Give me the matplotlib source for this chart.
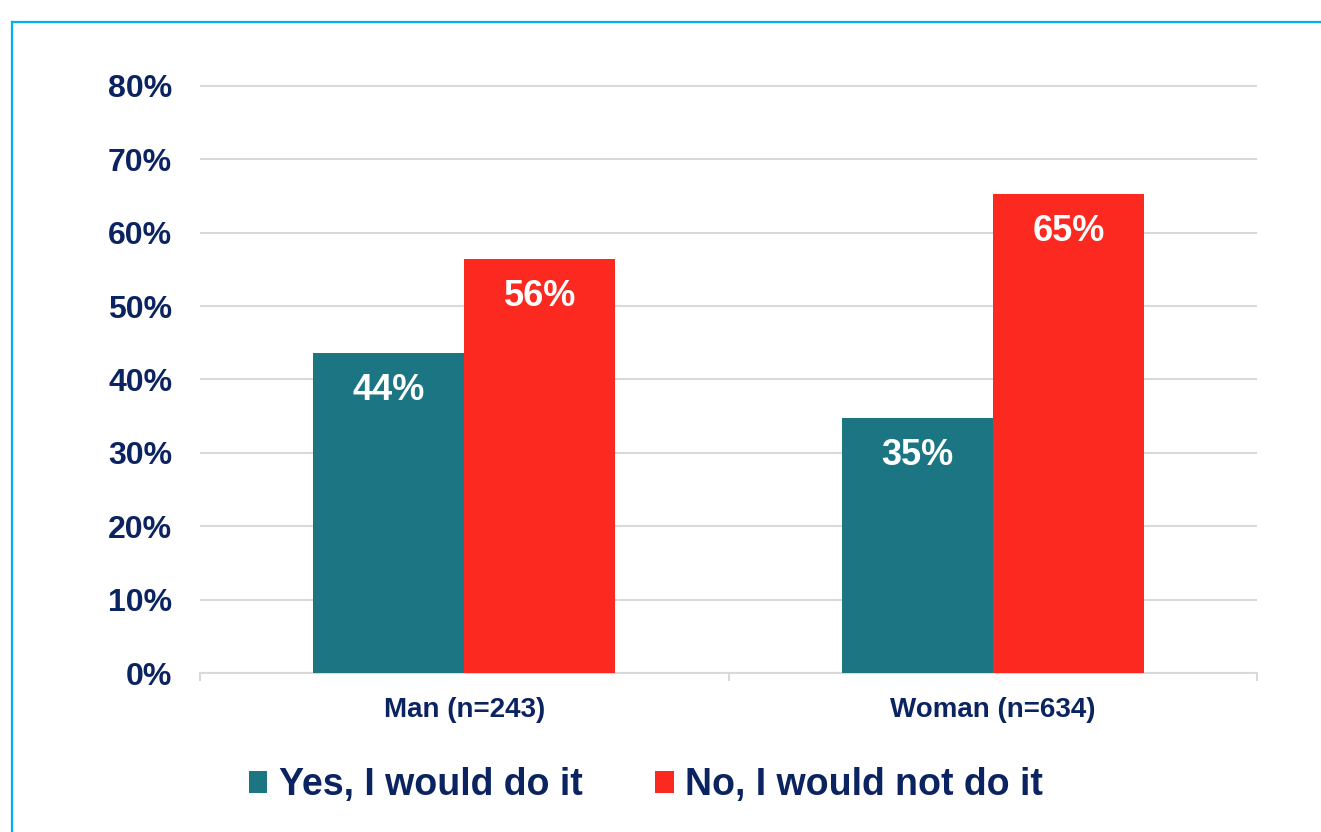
import numpy as np
import matplotlib.pyplot as plt
from matplotlib.lines import Line2D

plt.rcParams['font.family'] = ['Liberation Sans', 'DejaVu Sans']
plt.rcParams['font.weight'] = 'bold'

# survey answers by gender, in percent
groups = ['Man (n=243)', 'Woman (n=634)']
yes_vals = [43.6, 34.7]
no_vals = [56.4, 65.3]
series_names = ['Yes, I would do it', 'No, I would not do it']
yticks = [0, 10, 20, 30, 40, 50, 60, 70, 80]

navy = '#0B2461'
teal = '#1B7583'
red = '#FC2920'
grid_grey = '#D9D9D9'

fig = plt.figure(figsize=(13.21, 8.32), dpi=100)
ax = fig.add_axes([0.1514, 0.1911, 0.8002, 0.7232])

x = np.arange(len(groups))
width = 0.286
bars_yes = ax.bar(x - width / 2, yes_vals, width, color=teal, label=series_names[0], zorder=3)
bars_no = ax.bar(x + width / 2, no_vals, width, color=red, label=series_names[1], zorder=3)

# value labels just inside the top of each bar
def add_labels(bars):
    for bar in bars:
        h = bar.get_height()
        ax.annotate(f'{h:.0f}%',
                    xy=(bar.get_x() + bar.get_width() / 2, h),
                    xytext=(0, -27), textcoords='offset points',
                    ha='center', va='center', color='white',
                    fontsize=26, fontweight='bold', zorder=4)

add_labels(bars_yes)
add_labels(bars_no)

ax.set_xlim(-0.5, 1.5)
ax.set_ylim(0, 82)
ax.set_yticks(yticks)
ax.set_yticklabels([f'{v}%' for v in yticks])
ax.tick_params(axis='y', length=0, pad=20, labelsize=23, labelcolor=navy)

ax.set_xticks(x)
ax.set_xticklabels(groups)
ax.set_xticks([-0.5, 0.5, 1.5], minor=True)
ax.tick_params(axis='x', which='major', length=0, pad=17, labelsize=20, labelcolor=navy)
ax.tick_params(axis='x', which='minor', length=6, width=1.5, color=grid_grey, direction='out')

ax.yaxis.grid(True, color=grid_grey, linewidth=1.5, zorder=0)
ax.set_axisbelow(True)
for side in ['left', 'right', 'top']:
    ax.spines[side].set_visible(False)
ax.spines['bottom'].set_color(grid_grey)
ax.spines['bottom'].set_linewidth(1.5)

fig.legend(loc='center', bbox_to_anchor=(0.489, 0.056), ncol=2, frameon=False,
           labelcolor=navy, handlelength=0.5, handleheight=0.5,
           handletextpad=0.3, columnspacing=1.95,
           prop={'weight': 'bold', 'size': 27})

# outer frame along the top and left
fig.add_artist(Line2D([12 / 1321, 12 / 1321], [0, 1 - 22 / 832],
                      transform=fig.transFigure, color='#00B0F0', linewidth=1.6))
fig.add_artist(Line2D([12 / 1321, 1], [1 - 22 / 832, 1 - 22 / 832],
                      transform=fig.transFigure, color='#00B0F0', linewidth=1.6))

fig.savefig('out.png', dpi=100)
